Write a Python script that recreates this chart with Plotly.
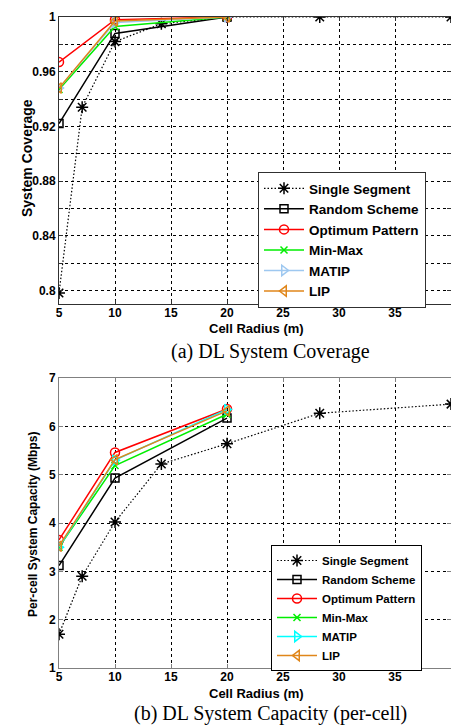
import plotly.graph_objects as go

# ---------------- data ----------------
radius_single = [5, 7.07, 10, 14.14, 20, 28.28, 40]
radius = [5, 10, 20]

cov_single = [0.798, 0.934, 0.982, 0.995, 1.0, 1.0, 1.0]
cov_random = [0.922, 0.988, 1.0]
cov_optimum = [0.967, 0.998, 1.0]
cov_minmax = [0.947, 0.993, 1.0]
cov_matip = [0.948, 0.996, 1.0]
cov_lip = [0.948, 0.997, 1.0]

cap_single = [1.70, 2.90, 4.02, 5.22, 5.64, 6.27, 6.46]
cap_random = [3.12, 4.93, 6.17]
cap_optimum = [3.65, 5.46, 6.36]
cap_minmax = [3.50, 5.19, 6.25]
cap_matip = [3.50, 5.30, 6.35]
cap_lip = [3.52, 5.31, 6.32]

names = ["Single Segment", "Random Scheme", "Optimum Pattern", "Min-Max", "MATIP", "LIP"]
cap_titles = ["(a) DL System Coverage", "(b) DL System Capacity (per-cell)"]

# ---------------- styling ----------------
colors_top = ["#000000", "#000000", "#FF0000", "#00EE00", "#9EC8F0", "#E0861A"]
colors_bot = ["#000000", "#000000", "#FF0000", "#00EE00", "#00FFFF", "#E0861A"]
symbols = ["asterisk-open", "square-open", "circle-open", "x-thin-open",
           "triangle-right-open", "triangle-left-open"]
sizes = [10, 8, 9, 7, 9, 9]

fig = go.Figure()

top_y = [cov_single, cov_random, cov_optimum, cov_minmax, cov_matip, cov_lip]
bot_y = [cap_single, cap_random, cap_optimum, cap_minmax, cap_matip, cap_lip]

for i, n in enumerate(names):
    xs = radius_single if i == 0 else radius
    fig.add_trace(go.Scatter(
        x=xs, y=top_y[i], name=n, mode="lines+markers",
        line=dict(color=colors_top[i], width=1.5 if i else 1.2, dash="1.5px,2px" if i == 0 else "solid"),
        marker=dict(symbol=symbols[i], size=sizes[i], color=colors_top[i],
                    line=dict(color=colors_top[i], width=1.5)),
        xaxis="x", yaxis="y", legend="legend"))

for i, n in enumerate(names):
    xs = radius_single if i == 0 else radius
    fig.add_trace(go.Scatter(
        x=xs, y=bot_y[i], name=n, mode="lines+markers",
        line=dict(color=colors_bot[i], width=1.5 if i else 1.2, dash="1.5px,2px" if i == 0 else "solid"),
        marker=dict(symbol=symbols[i], size=sizes[i], color=colors_bot[i],
                    line=dict(color=colors_bot[i], width=1.5)),
        xaxis="x2", yaxis="y2", legend="legend2"))

SANS = "Arial, Liberation Sans, sans-serif"
SERIF = "Liberation Serif, Times New Roman, serif"
FONT = dict(family=SANS, size=12, color="#000000", weight="bold")
grid = dict(showgrid=True, gridcolor="#000000", gridwidth=1, griddash="3px,3px")


def axis_style(lc):
    return dict(showline=True, linecolor=lc, linewidth=1, mirror="ticks",
                ticks="inside", ticklen=4, tickcolor=lc, zeroline=False,
                tickfont=FONT, **grid)


PW = 392.0  # plot area width in px
PH = 651.0  # plot area height in px


def px(xp):
    return (xp - 59) / PW


def py(yp):
    return (668 - yp) / PH


TOP_LC = "#303030"
BOT_LC = "#808080"

# page body has an 8px margin, so the figure is offset by 8px
fig.update_layout(
    width=443, height=718,
    margin=dict(l=51, r=0, t=9, b=58),
    paper_bgcolor="white", plot_bgcolor="white",
    showlegend=True,
    font=FONT,
    xaxis=dict(domain=[0, 1], range=[5, 40], tick0=5, dtick=5, anchor="y",
               ticklabelstandoff=-2, **axis_style(TOP_LC)),
    yaxis=dict(domain=[py(304), 1], range=[0.79, 1.0], tick0=0.8, dtick=0.04, anchor="x",
               minor=dict(tick0=0.8, dtick=0.02, showgrid=True, gridcolor="#000000",
                          griddash="3px,3px", ticks="inside", ticklen=4, tickcolor=TOP_LC),
               **axis_style(TOP_LC)),
    xaxis2=dict(domain=[0, 1], range=[5, 40], tick0=5, dtick=5, anchor="y2",
                ticklabelstandoff=-2, **axis_style(BOT_LC)),
    yaxis2=dict(domain=[0, py(378)], range=[1, 7], tick0=1, dtick=1, anchor="x2", **axis_style(BOT_LC)),
    legend=dict(x=px(258), y=py(172), xanchor="left", yanchor="top",
                bgcolor="white", bordercolor="#303030", borderwidth=1,
                font=dict(family=SANS, size=13.5, weight="bold", color="#000000"),
                tracegroupgap=0, itemwidth=40, entrywidth=143),
    legend2=dict(x=px(271), y=py(545), xanchor="left", yanchor="top",
                 bgcolor="white", bordercolor="#000000", borderwidth=1,
                 font=dict(family=SANS, size=11.5, weight="bold", color="#000000"),
                 tracegroupgap=0, itemwidth=40, entrywidth=133),
)


def ann(text, x, y, font, angle=0):
    return dict(text=text, x=px(x), xref="paper", y=py(y), yref="paper",
                xanchor="center", yanchor="middle", textangle=angle,
                showarrow=False, font=font)


AX_T = dict(family=SANS, size=13, weight="bold", color="#000000")
CAP_T = dict(family=SERIF, size=20, color="#000000", weight="normal")

annots = [
    ann("Cell Radius (m)", 256, 328, AX_T),
    ann("Cell Radius (m)", 256, 694, AX_T),
    ann("System Coverage", 27, 158, dict(family=SANS, size=14, weight="bold", color="#000000"), -90),
    ann("Per-cell System Capacity (Mbps)", 33, 525,
        dict(family=SANS, size=12, weight="bold", color="#000000"), -90),
    ann(cap_titles[0], 270, 352, CAP_T),
    ann(cap_titles[1], 270, 713, CAP_T),
]
fig.update_layout(annotations=annots)

fig.write_html("out.html")
